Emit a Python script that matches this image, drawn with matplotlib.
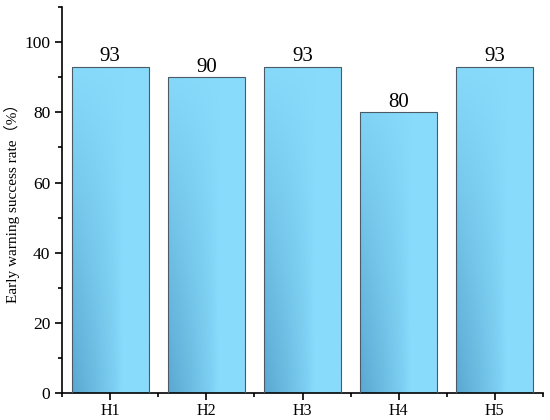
import numpy as np
import matplotlib
matplotlib.use("Agg")
import matplotlib.pyplot as plt
from matplotlib.ticker import MultipleLocator, FixedLocator

categories = ["H1", "H2", "H3", "H4", "H5"]
values = [93, 90, 93, 80, 93]

plt.rcParams['font.family'] = ['Liberation Serif', 'Noto Sans CJK SC']

fig = plt.figure(figsize=(5.5, 4.2), dpi=100)
ax = fig.add_axes([0.113, 0.064, 0.874, 0.919])

x = np.arange(len(categories))
bars = ax.bar(x, values, width=0.8, color='none', edgecolor='#4a5a66', linewidth=0.8, zorder=3)

light = np.array([136, 219, 251]) / 255
dark = np.array([90, 168, 210]) / 255
ny, nx = 200, 100
X = np.linspace(0, 1, nx)[None, :]
for b, v in zip(bars, values):
    Y = np.linspace(0, v / 100.0, ny)[:, None]
    tx = np.clip(1 - X / 0.65, 0, 1) ** 0.8
    ty = np.clip(1 - Y / 0.95, 0, 1) ** 1.0
    t = tx * ty
    img = light[None, None, :] + (dark - light)[None, None, :] * t[:, :, None]
    x0 = b.get_x()
    im = ax.imshow(img, extent=[x0, x0 + b.get_width(), 0, v], origin='lower',
                   aspect='auto', zorder=2, interpolation='bilinear')
    im.set_clip_path(b)
    ax.text(b.get_x() + b.get_width() / 2, v + 0.2, str(v), ha='center', va='bottom',
            fontsize=15, zorder=4)

ax.set_xlim(-0.5, 4.5)
ax.set_ylim(0, 110)
ax.set_xticks(x)
ax.set_xticklabels(categories, fontsize=11.5)
ax.xaxis.set_minor_locator(FixedLocator(np.arange(-0.5, 4.6, 1.0)))
ax.yaxis.set_major_locator(FixedLocator([0, 20, 40, 60, 80, 100]))
ax.yaxis.set_minor_locator(MultipleLocator(10))
ax.tick_params(axis='y', labelsize=12.5, direction='out', length=5, width=1.2)
ax.tick_params(axis='y', which='minor', direction='out', length=3, width=1.2)
ax.tick_params(axis='x', direction='out', length=5, width=1.2, pad=2)
ax.tick_params(axis='x', which='minor', direction='out', length=3, width=1.2)
for s in ['top', 'right']:
    ax.spines[s].set_visible(False)
for s in ['left', 'bottom']:
    ax.spines[s].set_linewidth(1.2)
ax.set_ylabel("Early warning success rate（%）", fontsize=11)
ax.yaxis.set_label_coords(-0.088, 0.5)

fig.savefig("out.png", dpi=100)
